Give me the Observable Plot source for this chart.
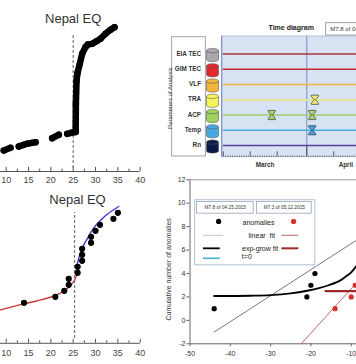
<!DOCTYPE html>
<html><head><meta charset="utf-8">
<script src="https://cdn.jsdelivr.net/npm/d3@7"></script>
<script src="https://cdn.jsdelivr.net/npm/@observablehq/plot@0.6"></script>
<style>
html,body{margin:0;padding:0;background:#fff;}
#wrap{position:relative;width:356px;height:364px;overflow:hidden;background:#fff;}
#wrap svg{position:absolute;left:0;top:0;}
</style></head><body><div id="wrap"></div>
<script>
// ---------------- Panel A (top-left): cumulative anomaly curve ----------------
const aGroup = ["a","a","b","b","c","c","d","e","e","f","f","f","f","f","f","f","f","f","f","f","f","f","f","f","f"];
const aX = [9.46,10.96,12.82,13.94,14.70,15.82,16.56,20.30,21.78,23.66,24.55,25.55,25.60,25.75,25.95,26.48,27.01,27.75,28.27,29.25,30.22,31.11,32.23,33.35,34.25];
const aY = [14.0,15.8,16.7,17.8,18.5,19.1,19.5,22.2,24.5,25.1,25.8,26.3,45,60.7,65.5,71.8,78.5,82.9,84.7,85.1,86.9,88.5,91.8,94.5,96.2];
const xMajor = [10,15,20,25,30,35,40];
const xMinor = [12.5,17.5,22.5,27.5,32.5,37.5];
const titleText = "Nepal EQ";

// ---------------- Panel C (bottom-left): anomalies with fits ----------------
const cX = [14,21,23,24,24,26,26,27,27,27,29,29,30,31,34,35];
const cY = [1,2,3,4,5,6,7,8,9,10,11,12,13,14,15,16];
const redFitX = [8.72,13.9,17.0,19.9,22.54,24.0,25.29,25.9];
const redFitY = [-0.17,0.83,1.35,1.93,2.77,3.6,4.72,6.1];
const blueFitX = [25.74,26.2,26.63,27.4,28.13,29.61,31.11,32.61,35.21];
const blueFitY = [6.88,8.3,9.38,10.7,11.67,13.5,14.72,15.75,17.05];

// ---------------- Panel B (top-right): time diagram ----------------
const params = ["EIA TEC","GIM TEC","VLF","TRA","ACP","Temp","Rn"];
const cylColors = ["#a9a9ab","#e02a2c","#f2b53a","#f6f35c","#a0d35c","#46a9e6","#0c1a48"];
const lineColors = ["#a8343e","#c62a30","#f0b640","#e9e878","#a2cf66","#46aee2","#5b3e9c"];
const anomParam = ["TRA","ACP","ACP","Temp"];
const anomDate = ["2015-04-04","2015-03-19","2015-04-03","2015-04-03"];
const anomColor = ["#f1ee6a","#a6d46c","#a6d46c","#3f9fe0"];
const timeTicks = ["2015-03-01","2015-03-11","2015-03-21","2015-04-01","2015-04-11"];
const months = ["March","April"];
const monthMid = ["2015-03-16T12:00Z","2015-04-15T12:00Z"];

// ---------------- Panel D (bottom-right): cumulative number of anomalies ----------------
const blackX = [-44,-21,-20,-19];
const blackY = [1,2,3,4];
const redX = [-14,-10,-9];
const redY = [1,2,3];
const linFitX = [-44,-5];
const linFitY = [-1,7.66];
const expFitX = [-44,-35,-30,-25,-20.6,-18,-15.6,-13,-11.5,-10,-8.6,-7];
const expFitY = [2.08,2.1,2.15,2.3,2.55,2.75,3.0,3.35,3.7,4.1,4.7,5.5];
const redLinX = [-22.4,-5];
const redLinY = [-2,4.6];
const redExpX = [-16.4,-5];
const redExpY = [2.5,2.5];
const dXTicks = [-50,-40,-30,-20,-10];
const dYTicks = [-2,0,2,4,6,8,10,12];
const eqLabels = ["M7.8 of 04.25.2015","M7.3 of 05.12.2015"];
const legendRows = ["anomalies","linear  fit","exp-grow fit","t=0"];

// ---------------- helpers ----------------
const W = 356, H = 364;
const FONT = "Liberation Sans, Arial, sans-serif";
const base = {width: W, height: H, margin: 0,
  style: {background: "transparent", overflow: "visible", fontFamily: FONT},
  color: {type: "identity"}};
const idx = n => d3.range(n);
const d0 = Date.UTC(2015, 2, 1);
const dd = n => new Date(d0 + n * 864e5);
const K = 0.5523;
const cylinder = {
  draw(ctx, size) {
    const r = Math.sqrt(size / Math.PI);
    const a = r, h = r * 1.1, e = r * 0.36;
    const top = -h + e, bot = h - e;
    ctx.moveTo(-a, top);
    ctx.lineTo(-a, bot);
    ctx.bezierCurveTo(-a, bot + K * e, -K * a, bot + e, 0, bot + e);
    ctx.bezierCurveTo(K * a, bot + e, a, bot + K * e, a, bot);
    ctx.lineTo(a, top);
    ctx.bezierCurveTo(a, top - K * e, K * a, top - e, 0, top - e);
    ctx.bezierCurveTo(-K * a, top - e, -a, top - K * e, -a, top);
    ctx.closePath();
    ctx.moveTo(-a, top);
    ctx.bezierCurveTo(-a, top + K * e, -K * a, top + e, 0, top + e);
    ctx.bezierCurveTo(K * a, top + e, a, top + K * e, a, top);
  }
};
const hourglass = {
  draw(ctx, size) {
    const r = Math.sqrt(size / Math.PI);
    const w = r * 0.78, h = r, b = r * 0.25, n = r * 0.14;
    ctx.moveTo(-w, -h); ctx.lineTo(w, -h); ctx.lineTo(w, -h + b);
    ctx.lineTo(n, 0); ctx.lineTo(w, h - b); ctx.lineTo(w, h);
    ctx.lineTo(-w, h); ctx.lineTo(-w, h - b); ctx.lineTo(-n, 0);
    ctx.lineTo(-w, -h + b); ctx.closePath();
  }
};

// ---------------- Panel A ----------------
const pA = Plot.plot({...base,
  x: {domain: [10, 40], range: [5.7, 139.7], axis: null},
  y: {domain: [0, 100], range: [171, 21], axis: null},
  marks: [
    Plot.ruleX([25], {y1: 2, y2: 92, stroke: "#777", strokeDasharray: "3,2", strokeWidth: 1.2}),
    Plot.ruleY([0], {x1: 8.7, x2: 40, stroke: "#555", strokeWidth: 1}),
    Plot.ruleX(xMajor, {y1: 0, y2: 2.7, stroke: "#555"}),
    Plot.ruleX(xMinor, {y1: 0, y2: 1.6, stroke: "#555"}),
    Plot.text(xMajor, {x: d => d, y: 0, dy: 9, text: d => String(d), fontSize: 9, fill: "#444", fontFamily: FONT}),
    Plot.line(idx(aX.length), {x: i => aX[i], y: i => aY[i], z: i => aGroup[i], stroke: "black", strokeWidth: 6.5, strokeLinecap: "round", strokeLinejoin: "round"}),
    Plot.dot(idx(aX.length), {x: i => aX[i], y: i => aY[i], r: 3.25, fill: "black"}),
    Plot.text([titleText], {x: 25, y: 102, text: d => d, fontSize: 13, fill: "#333", fontFamily: FONT})
  ]});

// ---------------- Panel C ----------------
const pC = Plot.plot({...base,
  x: {domain: [10, 40], range: [5.7, 139.7], axis: null},
  y: {domain: [0, 16], range: [308.3, 212.3], axis: null},
  marks: [
    Plot.ruleX([25.3], {y1: -4.95, y2: 16.05, stroke: "#777", strokeDasharray: "3,2", strokeWidth: 1.2}),
    Plot.ruleY([-5.75], {x1: 8.7, x2: 40, stroke: "#555"}),
    Plot.ruleX(xMajor, {y1: -5.75, y2: -5.08, stroke: "#555"}),
    Plot.ruleX(xMinor, {y1: -5.75, y2: -5.33, stroke: "#555"}),
    Plot.text(xMajor, {x: d => d, y: -5.75, dy: 10, text: d => String(d), fontSize: 9, fill: "#444", fontFamily: FONT}),
    Plot.line(idx(redFitX.length), {x: i => redFitX[i], y: i => redFitY[i], curve: "catmull-rom", stroke: "#c23b3b", strokeWidth: 1.4}),
    Plot.line(idx(blueFitX.length), {x: i => blueFitX[i], y: i => blueFitY[i], curve: "catmull-rom", stroke: "#3838c4", strokeWidth: 1.4}),
    Plot.dot(idx(cX.length), {x: i => cX[i], y: i => cY[i], r: 3.1, fill: "black"}),
    Plot.text([titleText], {x: 25.96, y: 18.2, text: d => d, fontSize: 13, fill: "#333", fontFamily: FONT})
  ]});

// ---------------- Panel B ----------------
const NARROW = "Liberation Sans Narrow, Arial Narrow, Liberation Sans, Arial, sans-serif";
const pB = Plot.plot({...base,
  x: {type: "utc", domain: [dd(0), dd(31)], range: [222.8, 306.3], axis: null},
  y: {domain: [0, 6], range: [53.5, 145], axis: null},
  marks: [
    Plot.rect([0], {x1: dd(-0.56), x2: dd(60), y1: -1.15, y2: 6.77, fill: "#d8e2f3", stroke: "#a9b6cf", strokeWidth: 0.8}),
    Plot.ruleX([dd(-0.56)], {y1: -1.15, y2: 6.77, stroke: "#6f86c0", strokeWidth: 1}),
    Plot.rect([0], {x1: dd(-18.97), x2: dd(-6.5), y1: -1.10, y2: 6.72, fill: "white", stroke: "#8c8c8c", strokeWidth: 0.8}),
    Plot.text(["Parameters of Analysis"], {x: dd(-19.8), y: 2.9, text: d => d, rotate: -90, fontSize: 6, fill: "#333", fontFamily: FONT}),
    Plot.ruleX([dd(31)], {y1: -1.15, y2: 6.7, stroke: "#7d8cbd", strokeWidth: 1}),
    Plot.ruleY(idx(params.length), {y: i => i, x1: dd(0), x2: dd(60), stroke: i => lineColors[i], strokeWidth: 1.6}),
    Plot.ruleY([6.70], {x1: dd(0), x2: dd(60), stroke: "#333", strokeDasharray: "1,1.3", strokeWidth: 0.9}),
    Plot.ruleX(timeTicks, {x: d => new Date(d), y1: 6.70, y2: d => d === "2015-04-01" ? 6.1 : 6.42, stroke: "#333", strokeWidth: 0.8}),
    Plot.text(months, {x: (d, i) => new Date(monthMid[i]), y: 7.25, text: d => d, fontSize: 6.3, fontWeight: "bold", fill: "#333", fontFamily: FONT}),
    Plot.text(params, {x: dd(-4), y: (d, i) => i, dx: -11.5, dy: -0.5, text: d => d, textAnchor: "end", fontSize: 6.3, fontWeight: "bold", fill: "#333", fontFamily: NARROW}),
    Plot.dot(idx(params.length), {x: dd(-4), y: i => i, dy: 1, r: 6, symbol: cylinder, fill: i => cylColors[i], stroke: "#555", strokeWidth: 0.6}),
    Plot.dot(idx(anomParam.length), {x: i => new Date(anomDate[i]), y: i => params.indexOf(anomParam[i]), r: 4.6, symbol: hourglass, fill: i => anomColor[i], stroke: "#3a3a3a", strokeWidth: 0.7}),
    Plot.text(["Time diagram"], {x: dd(25.2), y: -1.74, text: d => d, fontSize: 7, fontWeight: "bold", fill: "#222", fontFamily: NARROW}),
    Plot.rect([0], {x1: dd(38.2), x2: dd(70), y1: -2.02, y2: -1.21, fill: "white", stroke: "#888", strokeWidth: 0.8}),
    Plot.text([eqLabels[0]], {x: dd(39.7), y: -1.62, text: d => d, textAnchor: "start", fontSize: 6, fill: "#333", fontFamily: FONT})
  ]});

// ---------------- Panel D ----------------
const pD = Plot.plot({...base,
  x: {domain: [-50, -10], range: [189.5, 350.7], axis: null},
  y: {domain: [-2, 12], range: [343.3, 179.3], axis: null},
  marks: [
    Plot.ruleY([12], {x1: -50, x2: 5, stroke: "#9a9a9a", strokeWidth: 1}),
    Plot.ruleX([-50], {y1: -2, y2: 12, stroke: "#666"}),
    Plot.ruleY([-2], {x1: -50, x2: 5, stroke: "#666"}),
    Plot.ruleY(dYTicks, {x1: -50.8, x2: -50, stroke: "#666"}),
    Plot.text(dYTicks, {x: -50, y: d => d, dx: -4.5, text: d => String(d), textAnchor: "end", fontSize: 7, fill: "#333", fontFamily: FONT}),
    Plot.ruleX(dXTicks, {y1: -2, y2: -2.26, stroke: "#666"}),
    Plot.text(dXTicks, {x: d => d, y: -2, dy: 9.5, text: d => String(d), fontSize: 7, fill: "#333", fontFamily: FONT}),
    Plot.text(["Cumulative number of anomalies"], {x: -55.2, y: 4.36, text: d => d, rotate: -90, fontSize: 7, fill: "#333", fontFamily: FONT}),
    Plot.line(idx(2), {x: i => linFitX[i], y: i => linFitY[i], stroke: "#555", strokeWidth: 0.8}),
    Plot.line(idx(2), {x: i => redLinX[i], y: i => redLinY[i], stroke: "#b04040", strokeWidth: 0.8}),
    Plot.line(idx(expFitX.length), {x: i => expFitX[i], y: i => expFitY[i], curve: "catmull-rom", stroke: "black", strokeWidth: 1.8}),
    Plot.line(idx(2), {x: i => redExpX[i], y: i => redExpY[i], stroke: "#9e2b2b", strokeWidth: 2.2}),
    Plot.dot(idx(blackX.length), {x: i => blackX[i], y: i => blackY[i], r: 2.6, fill: "black"}),
    Plot.dot(idx(redX.length), {x: i => redX[i], y: i => redY[i], r: 2.6, fill: "#d8302a"}),
    // legend
    Plot.rect([0], {x1: -48.7, x2: -18.9, y1: 4.7, y2: 10.25, fill: "white", stroke: "#9fb0c8", strokeWidth: 0.8}),
    Plot.rect(eqLabels, {x1: (d, i) => i ? -33.4 : -48.3, x2: (d, i) => i ? -19.8 : -34.2, y1: 9.11, y2: 10.1, fill: "white", stroke: "#8797b3", strokeWidth: 0.7}),
    Plot.text(eqLabels, {x: (d, i) => i ? -26.6 : -41.25, y: 9.6, text: d => d, fontSize: 4.8, fill: "#333", fontFamily: FONT}),
    Plot.dot([0], {x: -42.9, y: 8.45, r: 2.6, fill: "black"}),
    Plot.dot([0], {x: -24.3, y: 8.45, r: 2.6, fill: "#e0302a"}),
    Plot.text(legendRows, {x: (d, i) => [-33.0, -32.2, -32.6, -35.9][i], y: (d, i) => [8.3, 7.26, 6.15, 5.4][i], text: d => d, fontSize: 7, fill: "#222", fontFamily: FONT}),
    Plot.ruleY([7.26], {x1: -46.65, x2: -41.7, stroke: "#b5b5b5", strokeWidth: 0.8}),
    Plot.ruleY([7.26], {x1: -27.2, x2: -23.0, stroke: "#a84040", strokeWidth: 0.8}),
    Plot.ruleY([6.15], {x1: -46.65, x2: -42.5, stroke: "black", strokeWidth: 1.8}),
    Plot.ruleY([6.15], {x1: -27.2, x2: -23.0, stroke: "#9e2b2b", strokeWidth: 2}),
    Plot.ruleY([5.3], {x1: -46.65, x2: -42.5, stroke: "#4ab3cf", strokeWidth: 1.6})
  ]});

const wrap = document.getElementById("wrap");
[pA, pC, pB, pD].forEach(p => wrap.appendChild(p));
</script></body></html>
